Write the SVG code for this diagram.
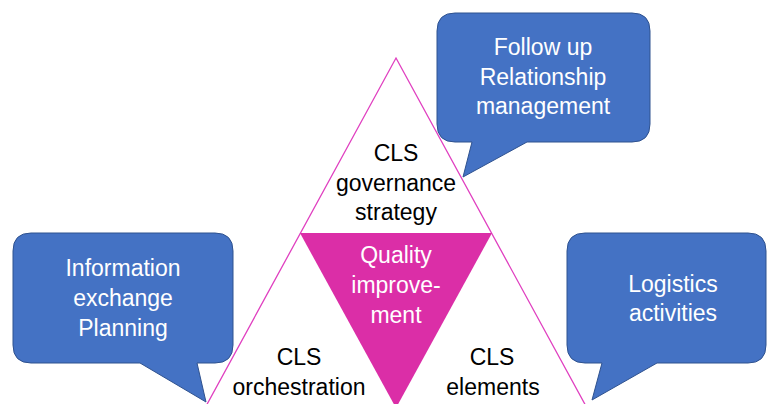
<svg xmlns="http://www.w3.org/2000/svg" width="767" height="404" viewBox="0 0 767 404">
<style>
.callout{fill:#4472C4;stroke:#2F528F;stroke-width:1}
.t{font-family:"Liberation Sans",Arial,sans-serif;font-size:23px;text-anchor:middle}
.w{fill:#FFFFFF}
.k{fill:#000000}
</style>
<rect width="767" height="404" fill="#FFFFFF"/>
<g id="triangle">
<polygon points="396,58 587,408 205,408" fill="none" stroke="#E040C0" stroke-width="1.3"/>
</g>
<g id="quality">
<polygon points="300,233 492,233 396,408" fill="#DB2EA7"/>
<text class="t w" x="396" y="263">Quality</text>
<text class="t w" x="396" y="293">improve-</text>
<text class="t w" x="396" y="323">ment</text>
</g>
<g id="governance">
<text class="t k" x="396" y="161">CLS</text>
<text class="t k" x="396" y="191">governance</text>
<text class="t k" x="396" y="220">strategy</text>
</g>
<g id="orchestration">
<text class="t k" x="299" y="365">CLS</text>
<text class="t k" x="299" y="395">orchestration</text>
</g>
<g id="elements">
<text class="t k" x="492" y="365">CLS</text>
<text class="t k" x="493" y="395">elements</text>
</g>
<g id="callout-followup">
<path class="callout" d="M455,13 H632 Q650,13 650,31 V124 Q650,142 632,142 H527 L463,177 L472,142 H455 Q437,142 437,124 V31 Q437,13 455,13 Z"/>
<text class="t w" x="543" y="55">Follow up</text>
<text class="t w" x="543" y="85">Relationship</text>
<text class="t w" x="543" y="114">management</text>
</g>
<g id="callout-information">
<path class="callout" d="M31,233 H215 Q233,233 233,251 V345 Q233,363 215,363 H197 L206,402 L140,363 H31 Q13,363 13,345 V251 Q13,233 31,233 Z"/>
<text class="t w" x="123" y="276">Information</text>
<text class="t w" x="123" y="306">exchange</text>
<text class="t w" x="123" y="336">Planning</text>
</g>
<g id="callout-logistics">
<path class="callout" d="M585,233 H748 Q766,233 766,251 V345 Q766,363 748,363 H657 L592,400 L602,363 H585 Q567,363 567,345 V251 Q567,233 585,233 Z"/>
<text class="t w" x="673" y="292">Logistics</text>
<text class="t w" x="673" y="321">activities</text>
</g>
<g id="connectors"></g>
</svg>
